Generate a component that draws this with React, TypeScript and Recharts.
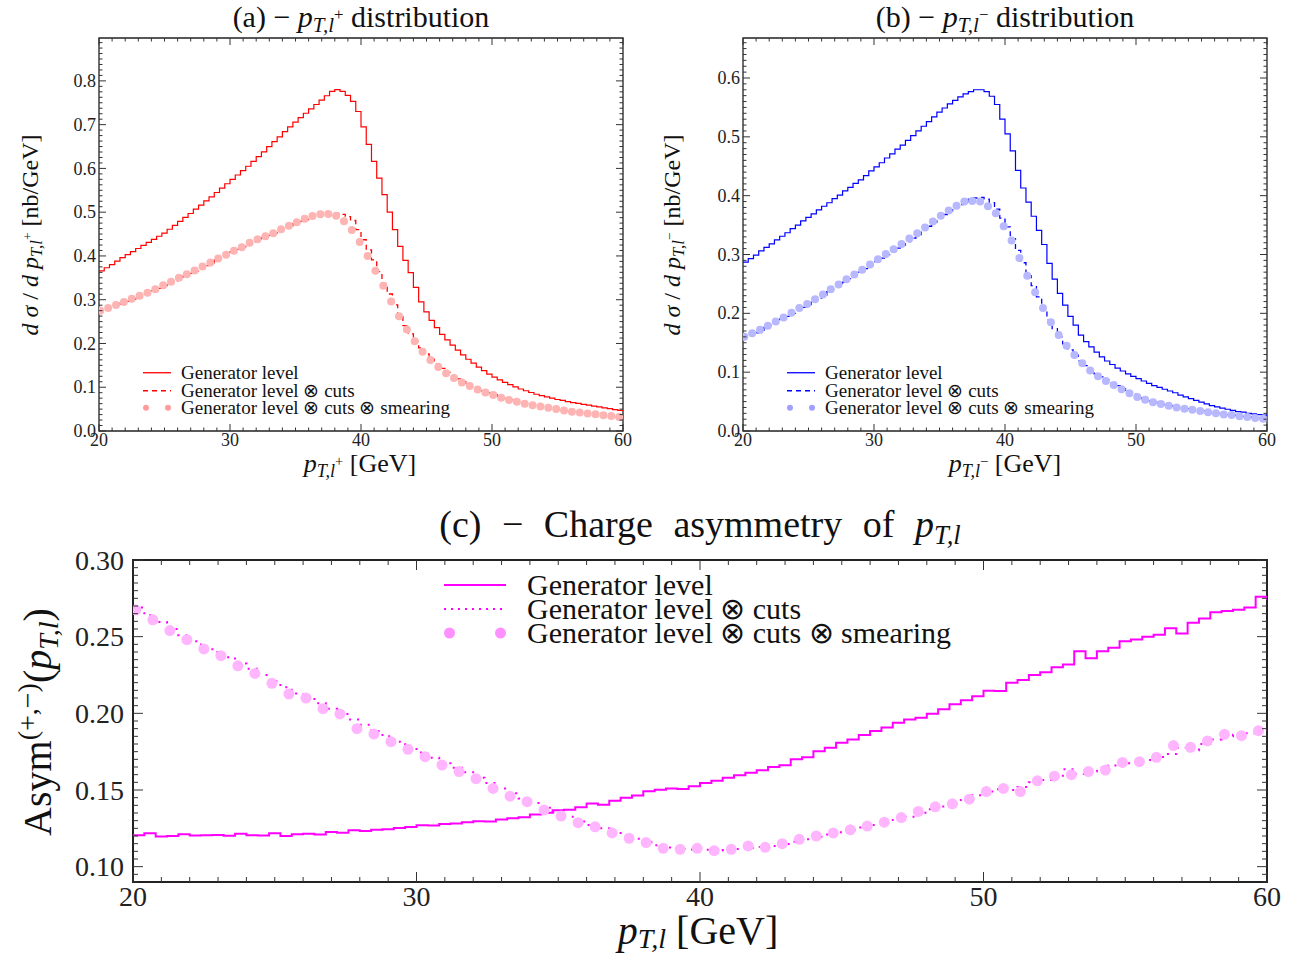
import React from 'react';
import { ComposedChart, Line, Scatter, XAxis, YAxis, ReferenceArea } from 'recharts';

const FONT = "'Liberation Serif', 'Times New Roman', serif";

// histogram bin grid (left edges, GeV) and marker grid (bin centres, GeV)
const HIST_X0 = 20;
const HIST_DX = 0.4;
const MARK_X0 = 20.1;
const MARK_DX = 0.6;

// (a) p_T,l+ distribution [nb/GeV]
const A_GEN = [
  0.366, 0.373, 0.380, 0.388, 0.396, 0.403, 0.410, 0.417, 0.424, 0.431,
  0.438, 0.445, 0.452, 0.461, 0.470, 0.479, 0.488, 0.497, 0.507, 0.516,
  0.526, 0.535, 0.545, 0.555, 0.565, 0.575, 0.585, 0.595, 0.605, 0.616,
  0.627, 0.638, 0.650, 0.661, 0.672, 0.684, 0.695, 0.706, 0.716, 0.726,
  0.736, 0.746, 0.756, 0.766, 0.776, 0.780, 0.776, 0.767, 0.753, 0.730,
  0.695, 0.655, 0.616, 0.578, 0.540, 0.500, 0.460, 0.422, 0.390, 0.362,
  0.328, 0.295, 0.272, 0.253, 0.236, 0.221, 0.208, 0.196, 0.185, 0.174,
  0.164, 0.155, 0.146, 0.138, 0.130, 0.123, 0.117, 0.111, 0.106, 0.101,
  0.096, 0.092, 0.088, 0.084, 0.081, 0.078, 0.075, 0.072, 0.070, 0.067,
  0.065, 0.063, 0.061, 0.059, 0.057, 0.055, 0.053, 0.051, 0.049, 0.047,
  0.046,
];
const A_CUTS = [
  0.274, 0.278, 0.283, 0.287, 0.292, 0.296, 0.301, 0.305, 0.310, 0.315,
  0.320, 0.326, 0.332, 0.337, 0.343, 0.349, 0.354, 0.360, 0.366, 0.372,
  0.378, 0.384, 0.391, 0.397, 0.403, 0.409, 0.415, 0.421, 0.427, 0.432,
  0.437, 0.442, 0.447, 0.452, 0.458, 0.464, 0.469, 0.474, 0.479, 0.483,
  0.487, 0.491, 0.494, 0.496, 0.497, 0.497, 0.495, 0.490, 0.481, 0.460,
  0.437, 0.414, 0.391, 0.364, 0.337, 0.313, 0.288, 0.263, 0.241, 0.222,
  0.205, 0.190, 0.176, 0.164, 0.153, 0.143, 0.134, 0.126, 0.119, 0.113,
  0.107, 0.102, 0.097, 0.092, 0.087, 0.083, 0.079, 0.075, 0.071, 0.068,
  0.065, 0.062, 0.060, 0.058, 0.056, 0.054, 0.052, 0.050, 0.048, 0.046,
  0.044, 0.043, 0.041, 0.040, 0.038, 0.037, 0.036, 0.035, 0.034, 0.033,
  0.033,
];
const A_SMEAR = [
  0.275, 0.281, 0.288, 0.295, 0.302, 0.309, 0.316, 0.324, 0.333, 0.341,
  0.350, 0.358, 0.367, 0.376, 0.385, 0.394, 0.403, 0.412, 0.420, 0.430,
  0.438, 0.445, 0.452, 0.461, 0.469, 0.477, 0.485, 0.491, 0.495, 0.496,
  0.492, 0.479, 0.459, 0.432, 0.400, 0.366, 0.332, 0.296, 0.262, 0.232,
  0.205, 0.181, 0.162, 0.146, 0.132, 0.121, 0.111, 0.103, 0.095, 0.088,
  0.082, 0.076, 0.071, 0.067, 0.062, 0.059, 0.056, 0.053, 0.050, 0.047,
  0.044, 0.042, 0.040, 0.038, 0.036, 0.034, 0.032,
];

// (b) p_T,l- distribution [nb/GeV]
const B_GEN = [
  0.287, 0.293, 0.299, 0.306, 0.312, 0.318, 0.325, 0.331, 0.337, 0.344,
  0.350, 0.357, 0.363, 0.369, 0.376, 0.382, 0.388, 0.395, 0.401, 0.408,
  0.414, 0.421, 0.427, 0.434, 0.442, 0.449, 0.456, 0.464, 0.471, 0.479,
  0.486, 0.494, 0.502, 0.510, 0.518, 0.526, 0.534, 0.542, 0.549, 0.556,
  0.562, 0.568, 0.573, 0.577, 0.580, 0.580, 0.577, 0.569, 0.555, 0.530,
  0.505, 0.476, 0.443, 0.413, 0.389, 0.365, 0.341, 0.317, 0.285, 0.258,
  0.234, 0.214, 0.195, 0.180, 0.163, 0.152, 0.143, 0.134, 0.126, 0.119,
  0.113, 0.107, 0.102, 0.097, 0.093, 0.089, 0.085, 0.081, 0.077, 0.074,
  0.071, 0.068, 0.065, 0.061, 0.058, 0.055, 0.052, 0.049, 0.046, 0.043,
  0.041, 0.039, 0.037, 0.035, 0.033, 0.032, 0.030, 0.029, 0.028, 0.027,
  0.026,
];
const B_CUTS = [
  0.159, 0.163, 0.167, 0.171, 0.176, 0.180, 0.185, 0.190, 0.195, 0.200,
  0.205, 0.210, 0.215, 0.220, 0.226, 0.231, 0.237, 0.242, 0.248, 0.253,
  0.259, 0.265, 0.270, 0.276, 0.282, 0.288, 0.294, 0.300, 0.305, 0.311,
  0.316, 0.322, 0.328, 0.334, 0.341, 0.348, 0.355, 0.362, 0.368, 0.374,
  0.380, 0.385, 0.390, 0.394, 0.396, 0.397, 0.394, 0.388, 0.377, 0.362,
  0.347, 0.327, 0.307, 0.286, 0.264, 0.247, 0.228, 0.207, 0.189, 0.174,
  0.160, 0.148, 0.138, 0.129, 0.119, 0.111, 0.104, 0.097, 0.092, 0.087,
  0.082, 0.077, 0.072, 0.067, 0.063, 0.059, 0.055, 0.051, 0.049, 0.047,
  0.045, 0.043, 0.041, 0.039, 0.038, 0.036, 0.035, 0.034, 0.032, 0.031,
  0.030, 0.029, 0.028, 0.027, 0.026, 0.025, 0.024, 0.023, 0.022, 0.021,
  0.020,
];
const B_SMEAR = [
  0.160, 0.166, 0.172, 0.179, 0.186, 0.193, 0.201, 0.209, 0.216, 0.224,
  0.232, 0.241, 0.249, 0.258, 0.266, 0.274, 0.283, 0.292, 0.301, 0.309,
  0.318, 0.327, 0.336, 0.346, 0.356, 0.366, 0.375, 0.383, 0.390, 0.391,
  0.390, 0.382, 0.370, 0.348, 0.324, 0.294, 0.264, 0.236, 0.209, 0.185,
  0.163, 0.145, 0.129, 0.115, 0.103, 0.093, 0.085, 0.078, 0.071, 0.064,
  0.058, 0.053, 0.049, 0.046, 0.043, 0.040, 0.038, 0.036, 0.034, 0.032,
  0.030, 0.028, 0.027, 0.025, 0.024, 0.022, 0.021,
];

// (c) charge asymmetry
const C_GEN = [
  0.1205, 0.1218, 0.1196, 0.1200, 0.1212, 0.1203, 0.1205, 0.1207, 0.1202, 0.1214,
  0.1205, 0.1203, 0.1218, 0.1200, 0.1212, 0.1214, 0.1209, 0.1226, 0.1222, 0.1238,
  0.1232, 0.1240, 0.1244, 0.1252, 0.1258, 0.1270, 0.1268, 0.1278, 0.1282, 0.1290,
  0.1296, 0.1294, 0.1308, 0.1316, 0.1322, 0.1340, 0.1352, 0.1368, 0.1372, 0.1388,
  0.1412, 0.1404, 0.1430, 0.1450, 0.1464, 0.1492, 0.1502, 0.1510, 0.1506, 0.1524,
  0.1545, 0.1560, 0.1580, 0.1596, 0.1612, 0.1628, 0.1650, 0.1662, 0.1700, 0.1714,
  0.1752, 0.1775, 0.1808, 0.1830, 0.1858, 0.1885, 0.1908, 0.1938, 0.1960, 0.1972,
  0.1998, 0.2026, 0.2060, 0.2085, 0.2112, 0.2148, 0.2145, 0.2200, 0.2218, 0.2250,
  0.2268, 0.2300, 0.2318, 0.2405, 0.2360, 0.2405, 0.2428, 0.2470, 0.2482, 0.2500,
  0.2512, 0.2555, 0.2520, 0.2590, 0.2618, 0.2660, 0.2668, 0.2675, 0.2690, 0.2760,
  0.2740,
];
const C_CUTS = [
  0.2690, 0.2640, 0.2595, 0.2550, 0.2510, 0.2470, 0.2432, 0.2400, 0.2365, 0.2325,
  0.2290, 0.2250, 0.2210, 0.2170, 0.2130, 0.2100, 0.2065, 0.2030, 0.1995, 0.1960,
  0.1925, 0.1885, 0.1850, 0.1815, 0.1775, 0.1745, 0.1710, 0.1675, 0.1645, 0.1615,
  0.1580, 0.1545, 0.1510, 0.1478, 0.1445, 0.1415, 0.1385, 0.1355, 0.1325, 0.1295,
  0.1272, 0.1250, 0.1228, 0.1205, 0.1182, 0.1160, 0.1140, 0.1125, 0.1115, 0.1112,
  0.1110, 0.1106, 0.1108, 0.1115, 0.1122, 0.1128, 0.1135, 0.1148, 0.1162, 0.1178,
  0.1195, 0.1210, 0.1225, 0.1240, 0.1255, 0.1272, 0.1288, 0.1305, 0.1325, 0.1352,
  0.1375, 0.1392, 0.1410, 0.1435, 0.1465, 0.1490, 0.1505, 0.1500, 0.1520, 0.1550,
  0.1565, 0.1585, 0.1635, 0.1605, 0.1620, 0.1645, 0.1660, 0.1675, 0.1685, 0.1695,
  0.1715, 0.1735, 0.1775, 0.1760, 0.1800, 0.1830, 0.1850, 0.1860, 0.1870, 0.1885,
  0.1890,
];
const C_SMEAR = [
  0.2674, 0.2610, 0.2540, 0.2480, 0.2420, 0.2376, 0.2310, 0.2260, 0.2196, 0.2126,
  0.2100, 0.2030, 0.1996, 0.1900, 0.1865, 0.1815, 0.1765, 0.1717, 0.1663, 0.1620,
  0.1574, 0.1510, 0.1460, 0.1424, 0.1370, 0.1330, 0.1287, 0.1260, 0.1220, 0.1185,
  0.1157, 0.1120, 0.1113, 0.1120, 0.1104, 0.1113, 0.1135, 0.1126, 0.1150, 0.1178,
  0.1200, 0.1220, 0.1240, 0.1265, 0.1290, 0.1320, 0.1360, 0.1390, 0.1410, 0.1440,
  0.1490, 0.1510, 0.1490, 0.1560, 0.1590, 0.1600, 0.1620, 0.1630, 0.1680, 0.1685,
  0.1713, 0.1790, 0.1778, 0.1820, 0.1863, 0.1854, 0.1887,
];

const LEGEND_LABELS = ['Generator level', 'Generator level \u2297 cuts', 'Generator level \u2297 cuts \u2297 smearing'];

const X_MAJOR = [20, 30, 40, 50, 60];
const A_Y_MAJOR = [0, 0.1, 0.2, 0.3, 0.4, 0.5, 0.6, 0.7, 0.8];
const B_Y_MAJOR = [0, 0.1, 0.2, 0.3, 0.4, 0.5, 0.6];
const C_Y_MAJOR = [0.1, 0.15, 0.2, 0.25, 0.3];

const range = (a: number, b: number, step: number) => {
  const n = Math.round((b - a) / step);
  const out: number[] = [];
  for (let i = 0; i <= n; i++) out.push(+(a + i * step).toFixed(5));
  return out;
};
const toPoints = (x0: number, dx: number, ys: number[]) =>
  ys.map((y, i) => ({ x: +(x0 + i * dx).toFixed(3), y }));

type Margin = { top: number; right: number; bottom: number; left: number };
type SeriesSpec = {
  kind: 'line' | 'scatter';
  data: { x: number; y: number }[];
  color: string;
  width?: number;
  dash?: string;
  r?: number;
};

// plot = inner frame rectangle in the chart's own pixel space
function Panel(props: {
  w: number; h: number; plot: Margin; yDomain: [number, number];
  xTicks: number[]; yTicks: number[]; yMajor: number[]; yDigits: number;
  tickFont: number; majLen: number; minLen: number; frameW: number;
  xLabelDy: number; yLabelDx: number; series: SeriesSpec[];
}) {
  const { w, h, plot, yDomain, xTicks, yTicks, yMajor, yDigits, tickFont, majLen, minLen, frameW, xLabelDy, yLabelDx, series } = props;
  const top = plot.top;
  const bottom = h - plot.bottom;
  const left = plot.left;
  const right = w - plot.right;
  // axes take 1px each (an axis of size 0 is not drawn)
  const margin = { top: plot.top, right: plot.right, bottom: plot.bottom - 1, left: plot.left - 1 };
  const isMaj = (list: number[], v: number) => list.some((t) => Math.abs(t - v) < 1e-6);

  const XTick = (p: any) => {
    const x = p.x;
    const v = p.payload.value;
    const maj = isMaj(X_MAJOR, v);
    const len = maj ? majLen : minLen;
    return (
      <g>
        <line x1={x} x2={x} y1={bottom} y2={bottom - len} stroke="#333" strokeWidth={1} />
        <line x1={x} x2={x} y1={top} y2={top + len} stroke="#333" strokeWidth={1} />
        {maj && (
          <text x={x} y={bottom + xLabelDy} textAnchor="middle" fontFamily={FONT} fontSize={tickFont} fill="#222">
            {v}
          </text>
        )}
      </g>
    );
  };
  const YTick = (p: any) => {
    const y = p.y;
    const v = p.payload.value;
    const maj = isMaj(yMajor, v);
    const len = maj ? majLen : minLen;
    return (
      <g>
        <line x1={left} x2={left + len} y1={y} y2={y} stroke="#333" strokeWidth={1} />
        <line x1={right} x2={right - len} y1={y} y2={y} stroke="#333" strokeWidth={1} />
        {maj && (
          <text x={left - yLabelDx} y={y} dy="0.34em" textAnchor="end" fontFamily={FONT} fontSize={tickFont} fill="#222">
            {v.toFixed(yDigits)}
          </text>
        )}
      </g>
    );
  };

  return (
    <ComposedChart width={w} height={h} margin={margin}>
      <XAxis
        type="number" dataKey="x" domain={[20, 60]} ticks={xTicks} interval={0}
        height={1} tickSize={0} tickMargin={0} axisLine={false} tickLine={false}
        tick={XTick} allowDataOverflow
      />
      <YAxis
        type="number" dataKey="y" domain={yDomain} ticks={yTicks} interval={0}
        width={1} tickSize={0} tickMargin={0} axisLine={false} tickLine={false}
        tick={YTick} allowDataOverflow
      />
      <ReferenceArea
        x1={20} x2={60} y1={yDomain[0]} y2={yDomain[1]}
        fill="none" fillOpacity={0} stroke="#222" strokeWidth={frameW} ifOverflow="visible"
      />
      {series.map((s, i) =>
        s.kind === 'scatter' ? (
          <Scatter
            key={i}
            data={s.data}
            dataKey="y"
            fill={s.color}
            isAnimationActive={false}
            shape={(sp: any) => <circle cx={sp.cx} cy={sp.cy} r={s.r ?? 4} fill={s.color} />}
          />
        ) : (
          <Line
            key={i}
            data={s.data}
            dataKey="y"
            type="stepAfter"
            stroke={s.color}
            strokeWidth={s.width ?? 1.2}
            strokeDasharray={s.dash}
            dot={false}
            activeDot={false}
            isAnimationActive={false}
          />
        )
      )}
    </ComposedChart>
  );
}

const PT = ({ sup, subShift = 0.26 }: { sup?: string; subShift?: number }) => (
  <span>
    <i>p</i>
    <span style={{ fontSize: '0.7em', position: 'relative', top: `${subShift}em` }}>
      <i>T,l</i>
      {sup && <span style={{ fontSize: '0.8em', position: 'relative', top: '-0.75em' }}>{sup}</span>}
    </span>
  </span>
);

const Txt = ({ x, y, size, rotate, children, style }: any) => (
  <div
    style={{
      position: 'absolute', left: x, top: y,
      transform: `translate(-50%, -50%)${rotate ? ' rotate(-90deg)' : ''}`,
      fontFamily: FONT, fontSize: size, whiteSpace: 'nowrap', lineHeight: 1, color: '#111',
      ...style,
    }}
  >
    {children}
  </div>
);

function LegendBox({ left, top, rowH, symW, gap, fontSize, color, dotColor, dash, lineW, r }: any) {
  return (
    <div style={{ position: 'absolute', left, top, fontFamily: FONT, fontSize, color: '#111' }}>
      {LEGEND_LABELS.map((label, i) => (
        <div key={i} style={{ display: 'flex', alignItems: 'center', height: rowH, whiteSpace: 'nowrap' }}>
          <svg width={symW} height={rowH} style={{ flex: 'none', overflow: 'visible' }}>
            {i === 0 && <line x1={0} x2={symW} y1={rowH / 2} y2={rowH / 2} stroke={color} strokeWidth={lineW} />}
            {i === 1 && (
              <line x1={0} x2={symW} y1={rowH / 2} y2={rowH / 2} stroke={color} strokeWidth={lineW} strokeDasharray={dash} />
            )}
            {i === 2 && (
              <g>
                <circle cx={r} cy={rowH / 2} r={r} fill={dotColor} />
                <circle cx={symW - r} cy={rowH / 2} r={r} fill={dotColor} />
              </g>
            )}
          </svg>
          <span
            style={{
              display: 'inline-block', marginLeft: gap, height: rowH, lineHeight: `${rowH}px`,
              overflow: 'visible',
            }}
          >
            {label}
          </span>
        </div>
      ))}
    </div>
  );
}

const X_TICKS = range(20, 60, 1);
const A_Y_TICKS = range(0, 0.8875, 0.0125);
const B_Y_TICKS = range(0, 0.66, 0.01);
const C_Y_TICKS = range(0.09, 0.3, 0.005);

export default function App() {
  const aSeries: SeriesSpec[] = [
    { kind: 'scatter', data: toPoints(MARK_X0, MARK_DX, A_SMEAR), color: '#ffb4b4', r: 4 },
    { kind: 'line', data: toPoints(HIST_X0, HIST_DX, A_CUTS), color: '#ff0000', width: 1.3, dash: '5 4' },
    { kind: 'line', data: toPoints(HIST_X0, HIST_DX, A_GEN), color: '#ff0000', width: 1.2 },
  ];
  const bSeries: SeriesSpec[] = [
    { kind: 'scatter', data: toPoints(MARK_X0, MARK_DX, B_SMEAR), color: '#b8b8ff', r: 4 },
    { kind: 'line', data: toPoints(HIST_X0, HIST_DX, B_CUTS), color: '#0000ff', width: 1.3, dash: '5 4' },
    { kind: 'line', data: toPoints(HIST_X0, HIST_DX, B_GEN), color: '#0000ff', width: 1.2 },
  ];
  const cSeries: SeriesSpec[] = [
    { kind: 'scatter', data: toPoints(MARK_X0, MARK_DX, C_SMEAR), color: '#ffb6ff', r: 5.5 },
    { kind: 'line', data: toPoints(HIST_X0, HIST_DX, C_CUTS), color: '#ff00ff', width: 2, dash: '2 6' },
    { kind: 'line', data: toPoints(HIST_X0, HIST_DX, C_GEN), color: '#ff00ff', width: 2 },
  ];

  return (
    <div style={{ position: 'absolute', left: 0, top: 0, width: 1303, height: 955, background: '#fff', overflow: 'hidden' }}>
      <div style={{ position: 'absolute', left: 0, top: 0 }}>
        <Panel
          w={650} h={480} plot={{ top: 38, right: 27, bottom: 49, left: 99 }} yDomain={[0, 0.898]}
          xTicks={X_TICKS} yTicks={A_Y_TICKS} yMajor={A_Y_MAJOR} yDigits={1}
          tickFont={18} majLen={7} minLen={3.5} frameW={1.3} xLabelDy={15} yLabelDx={3} series={aSeries}
        />
      </div>
      <div style={{ position: 'absolute', left: 650, top: 0 }}>
        <Panel
          w={653} h={480} plot={{ top: 38, right: 36, bottom: 49, left: 93 }} yDomain={[0, 0.668]}
          xTicks={X_TICKS} yTicks={B_Y_TICKS} yMajor={B_Y_MAJOR} yDigits={1}
          tickFont={18} majLen={7} minLen={3.5} frameW={1.3} xLabelDy={15} yLabelDx={3} series={bSeries}
        />
      </div>
      <div style={{ position: 'absolute', left: 0, top: 480 }}>
        <Panel
          w={1303} h={475} plot={{ top: 80, right: 36, bottom: 73, left: 133 }} yDomain={[0.09, 0.3]}
          xTicks={X_TICKS} yTicks={C_Y_TICKS} yMajor={C_Y_MAJOR} yDigits={2}
          tickFont={28} majLen={10} minLen={5} frameW={2} xLabelDy={24} yLabelDx={9} series={cSeries}
        />
      </div>

      <Txt x={361} y={17} size={30}>(a) &minus; <PT sup="+" /> distribution</Txt>
      <Txt x={1005} y={17} size={30}>(b) &minus; <PT sup="&minus;" /> distribution</Txt>
      <Txt x={360} y={464} size={26}><PT sup="+" /> [GeV]</Txt>
      <Txt x={1005} y={464} size={26}><PT sup="&minus;" /> [GeV]</Txt>
      <Txt x={30} y={235} size={24} rotate>
        <i>d</i> <i>&sigma;</i> / <i>d</i> <PT sup="+" /> [nb/GeV]
      </Txt>
      <Txt x={672} y={235} size={24} rotate>
        <i>d</i> <i>&sigma;</i> / <i>d</i> <PT sup="&minus;" /> [nb/GeV]
      </Txt>
      <Txt x={700} y={524} size={38} style={{ wordSpacing: 11 }}>
        (c) &minus; Charge asymmetry of <PT />
      </Txt>
      <Txt x={698} y={931} size={40}><PT subShift={0.16} /> [GeV]</Txt>
      <Txt x={38} y={722} size={40} rotate>
        Asym<span style={{ fontSize: '0.7em', position: 'relative', top: '-0.5em' }}>(+,&minus;)</span>(<PT />)
      </Txt>

      <LegendBox left={143} top={364} rowH={17.5} symW={28} gap={10} fontSize={19}
        color="#ff0000" dotColor="#ff9c9c" dash="5 4" lineW={1.3} r={3} />
      <LegendBox left={787} top={364} rowH={17.5} symW={28} gap={10} fontSize={19}
        color="#0000ff" dotColor="#a0a0ff" dash="5 4" lineW={1.3} r={3} />
      <LegendBox left={444} top={573} rowH={24} symW={62} gap={21} fontSize={30}
        color="#ff00ff" dotColor="#ff90ff" dash="2 5" lineW={2} r={5.5} />
    </div>
  );
}
